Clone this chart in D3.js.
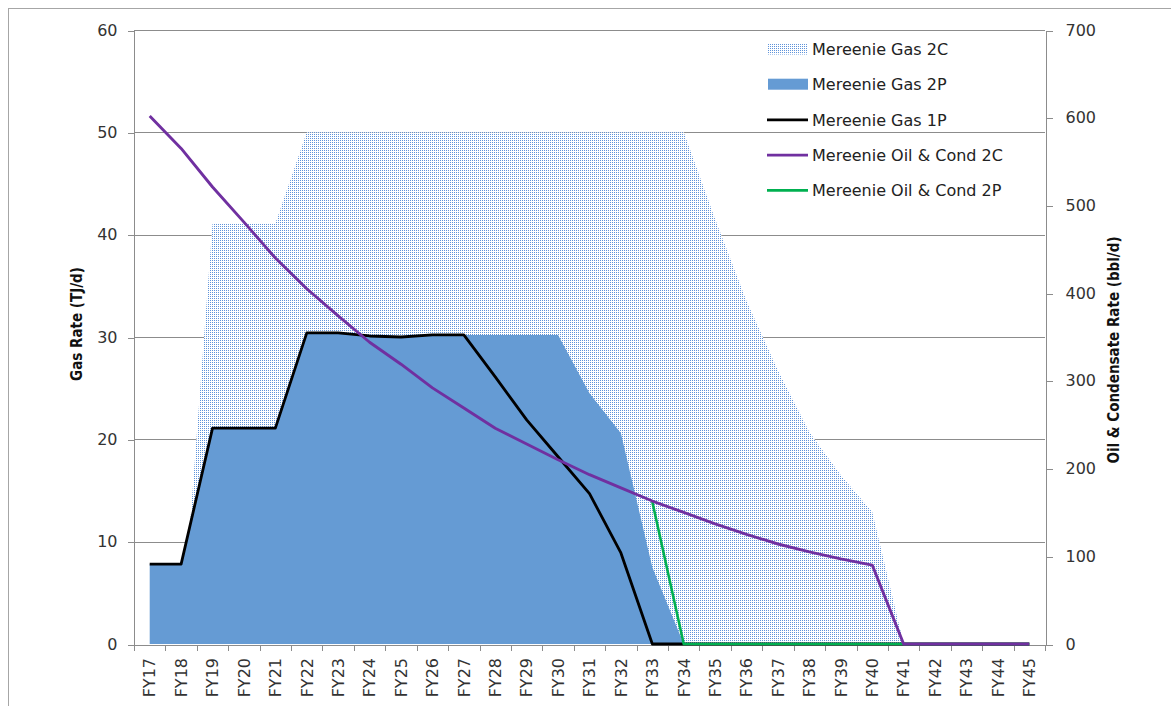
<!DOCTYPE html>
<html>
<head>
<meta charset="utf-8">
<script src="https://cdn.jsdelivr.net/npm/d3@7"></script>
<style>
  html, body { margin: 0; padding: 0; background: #fff; }
  svg { display: block; }
  .tick text { font-family: "DejaVu Sans", Verdana, sans-serif; font-size: 16px; fill: #333; }
  .axis path, .axis line { stroke: #8c8c8c; stroke-width: 1; shape-rendering: crispEdges; }
  .title { font-family: "DejaVu Sans Condensed", "DejaVu Sans", sans-serif; font-weight: bold; font-size: 15px; fill: #111; }
  .legend text { font-family: "DejaVu Sans", Verdana, sans-serif; font-size: 16px; fill: #222; }
</style>
</head>
<body>
<svg id="chart" width="1171" height="706"></svg>
<script>
// ---------------- data ----------------
const categories = ["FY17","FY18","FY19","FY20","FY21","FY22","FY23","FY24","FY25","FY26",
  "FY27","FY28","FY29","FY30","FY31","FY32","FY33","FY34","FY35","FY36","FY37","FY38",
  "FY39","FY40","FY41","FY42","FY43","FY44","FY45"];

// Gas rate, TJ/d (left axis)
const gas2C = [0, 0, 41.1, 41.1, 41.1, 50, 50, 50, 50, 50, 50, 50, 50, 50, 50, 50, 50, 50,
  41.5, 33.5, 26.7, 20.7, 16.5, 12.9, 0, 0, 0, 0, 0];
const gas2P = [7.8, 7.8, 21.1, 21.1, 21.1, 30.4, 30.4, 30.1, 30.0, 30.2, 30.2, 30.2, 30.2, 30.2,
  24.5, 20.6, 7.5, 0, 0, 0, 0, 0, 0, 0, 0, 0, 0, 0, 0];
const gas1P = [7.8, 7.8, 21.1, 21.1, 21.1, 30.4, 30.4, 30.1, 30.0, 30.2, 30.2, 26.1, 21.9, 18.3,
  14.7, 8.9, 0, 0, 0, 0, 0, 0, 0, 0, 0, 0, 0, 0, 0];

// Oil & condensate rate, bbl/d (right axis)
const oil2C = [602, 565, 521, 481, 440, 405, 374, 344, 319, 292, 269, 246, 228, 210, 193, 178,
  163, 150, 137, 125, 114, 105, 97, 90, 0, 0, 0, 0, 0];
const oil2P = [null, null, null, null, null, null, null, null, null, null, null, null, null, null,
  null, null, 162, 0, 0, 0, 0, 0, 0, 0, 0, 0, 0, 0, 0];

const leftTicks = [0, 10, 20, 30, 40, 50, 60];
const rightTicks = [0, 100, 200, 300, 400, 500, 600, 700];

const legendLabels = ["Mereenie Gas 2C", "Mereenie Gas 2P", "Mereenie Gas 1P",
  "Mereenie Oil & Cond 2C", "Mereenie Oil & Cond 2P"];

const leftTitle = "Gas Rate (TJ/d)";
const rightTitle = "Oil & Condensate Rate (bbl/d)";

// ---------------- layout ----------------
const svg = d3.select("#chart");
const L = 134, R = 1045, T = 30, B = 644;

const colors = { area2C: "#5f93da", area2P: "#659bd4", p1: "#000000", oil2C: "#7030a0", oil2P: "#00b050" };

// outer border
svg.append("rect").attr("x", 8.5).attr("y", 8.5).attr("width", 1200).attr("height", 800)
  .attr("fill", "none").attr("stroke", "#a6a6a6");

// dotted pattern
const defs = svg.append("defs");
const pat = defs.append("pattern").attr("id", "dots").attr("patternUnits", "userSpaceOnUse")
  .attr("width", 2).attr("height", 2);
pat.append("rect").attr("width", 2).attr("height", 2).attr("fill", "#ffffff");
pat.append("rect").attr("width", 1).attr("height", 1).attr("fill", colors.area2C);

const x = d3.scaleBand().domain(categories).range([L, R]).padding(0);
const xc = d => x(d) + x.bandwidth() / 2;
const xEdge = d3.scaleLinear().domain([0, categories.length]).range([L, R]);
const yL = d3.scaleLinear().domain([0, 60]).range([B, T]);
const yR = d3.scaleLinear().domain([0, 700]).range([B, T]);

// gridlines
svg.append("g").selectAll("line").data(leftTicks.filter(v => v > 0)).join("line")
  .attr("x1", L).attr("x2", R)
  .attr("y1", d => Math.round(yL(d)) + 0.5).attr("y2", d => Math.round(yL(d)) + 0.5)
  .attr("stroke", "#8c8c8c").attr("stroke-width", 1);

// areas
const areaL = vals => d3.area()
  .x((d, i) => xc(categories[i]))
  .y0(yL(0))
  .y1(d => yL(d))(vals);

svg.append("path").attr("d", areaL(gas2C)).attr("fill", "url(#dots)");
svg.append("path").attr("d", areaL(gas2P)).attr("fill", colors.area2P);

// axes
const gx = svg.append("g").attr("class", "axis").attr("transform", `translate(0,${B})`)
  .call(d3.axisBottom(x).tickSize(0).tickPadding(0));
gx.select(".domain").remove();
gx.selectAll("text")
  .attr("transform", "rotate(-90)")
  .attr("text-anchor", "end")
  .attr("x", -14).attr("y", 0).attr("dy", "0.36em");

svg.append("g").attr("class", "axis").attr("transform", `translate(0,${B + 0.5})`)
  .call(d3.axisBottom(xEdge).tickValues(d3.range(0, categories.length + 1)).tickSize(6).tickSizeOuter(0).tickFormat(""));

const gy = svg.append("g").attr("class", "axis").attr("transform", `translate(${L - 0.5},0)`)
  .call(d3.axisLeft(yL).tickValues(leftTicks).tickSize(6).tickSizeOuter(0).tickPadding(10));
gy.selectAll(".tick line").attr("transform", "translate(0,0.5)");

const gyr = svg.append("g").attr("class", "axis").attr("transform", `translate(${R + 0.5},0)`)
  .call(d3.axisRight(yR).tickValues(rightTicks).tickSize(7).tickSizeOuter(0).tickPadding(13));
gyr.selectAll(".tick line").attr("transform", "translate(0,0.5)");

// lines
const lineL = d3.line().defined(d => d !== null).x((d, i) => xc(categories[i])).y(d => yL(d));
const lineR = d3.line().defined(d => d !== null).x((d, i) => xc(categories[i])).y(d => yR(d));

svg.append("path").attr("d", lineL(gas1P)).attr("fill", "none")
  .attr("stroke", colors.p1).attr("stroke-width", 2.8).attr("stroke-linejoin", "round");
svg.append("path").attr("d", lineR(oil2P)).attr("fill", "none")
  .attr("stroke", colors.oil2P).attr("stroke-width", 2.6).attr("stroke-linejoin", "round");
svg.append("path").attr("d", lineR(oil2C)).attr("fill", "none")
  .attr("stroke", colors.oil2C).attr("stroke-width", 2.9).attr("stroke-linejoin", "round");

// axis titles
svg.append("text").attr("class", "title")
  .attr("transform", "translate(82,324) rotate(-90)")
  .attr("text-anchor", "middle").text(leftTitle);
svg.append("text").attr("class", "title")
  .attr("transform", "translate(1119,350) rotate(-90)")
  .attr("text-anchor", "middle").text(rightTitle);

// legend
const lg = svg.append("g").attr("class", "legend");
const legY0 = 49.5, legStep = 35.2, swX = 768, swW = 40, txX = 812;
const legendKinds = ["dots", "fill", colors.p1, colors.oil2C, colors.oil2P];
legendLabels.forEach((lab, i) => {
  const cy = legY0 + i * legStep;
  if (i === 0) {
    lg.append("rect").attr("x", swX).attr("y", cy - 6).attr("width", swW).attr("height", 11).attr("fill", "url(#dots)");
  } else if (i === 1) {
    lg.append("rect").attr("x", swX).attr("y", cy - 6).attr("width", swW).attr("height", 11).attr("fill", colors.area2P);
  } else {
    lg.append("line").attr("x1", swX - 1).attr("x2", swX + swW).attr("y1", cy).attr("y2", cy)
      .attr("stroke", legendKinds[i]).attr("stroke-width", 2.8);
  }
  lg.append("text").attr("x", txX).attr("y", cy).attr("dy", "0.36em").text(lab);
});
</script>
</body>
</html>
